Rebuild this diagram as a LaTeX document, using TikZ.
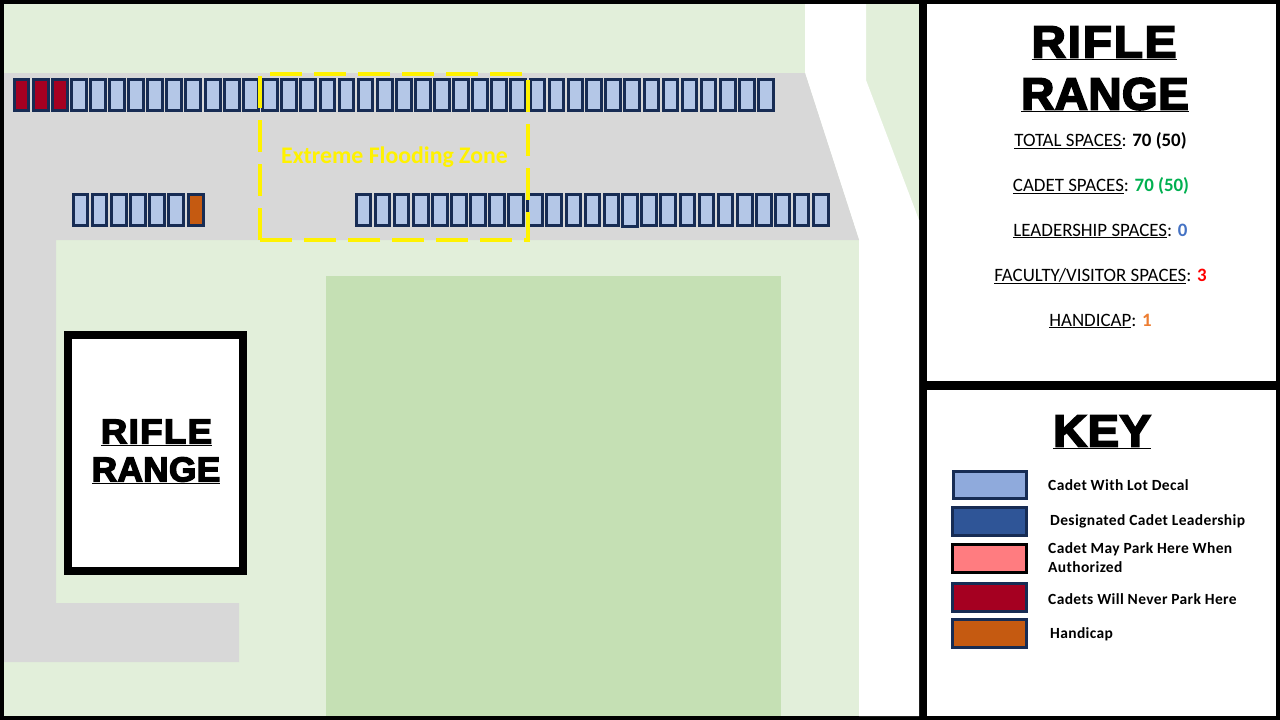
\documentclass[tikz,border=0pt]{standalone}
\usepackage{fontspec}
\setmainfont{Carlito}
\newfontfamily\blackA[FakeBold=4,FakeStretch=1.06,LetterSpace=4]{Liberation Sans Bold}
\newfontfamily\blackB[FakeBold=4,FakeStretch=1.02,LetterSpace=1]{Liberation Sans Bold}
\newfontfamily\blackC[FakeBold=4,FakeStretch=1.05,LetterSpace=1]{Liberation Sans Bold}
\newfontfamily\keyfont[LetterSpace=2.3]{Carlito Bold}
\newcommand{\fsz}[1]{\fontsize{#1}{#1}\selectfont}
\definecolor{lawn}{HTML}{E2EFDA}
\definecolor{field}{HTML}{C5E0B4}
\definecolor{pave}{HTML}{D8D8D8}
\definecolor{edgeblue}{HTML}{172C54}
\definecolor{decal}{HTML}{B4C7E7}
\definecolor{keydecal}{HTML}{8FAADC}
\definecolor{leader}{HTML}{2F5597}
\definecolor{maypark}{HTML}{FF7C80}
\definecolor{never}{HTML}{A50021}
\definecolor{hcap}{HTML}{C55A11}
\definecolor{cadetgreen}{HTML}{00B050}
\definecolor{leadblue}{HTML}{4472C4}
\definecolor{hcaporange}{HTML}{ED7D31}
\tikzset{
  stall/.style={draw=edgeblue,line width=3pt,fill=decal},
  stat/.style={inner sep=0pt,font=\fsz{18.9}},
  keytext/.style={inner sep=0pt,anchor=west,font=\fsz{15.5}\keyfont},
  bigtitle/.style={inner sep=0pt,font=\fsz{45}},
  buildtitle/.style={inner sep=0pt,font=\fsz{34.5}},
}
\begin{document}
\begin{tikzpicture}[x=1pt,y=-1pt]
\useasboundingbox (0,0) rectangle (1280,720);
\fill[black] (0,0) rectangle (1280,720);
% map
\fill[lawn] (4,4) rectangle (919,716);
\fill[white] (805,4) -- (866,4) -- (866,80) -- (919,220) -- (919,716) -- (859,716) -- (859,240) -- (805,73) -- cycle;
\fill[field] (326,276) rectangle (781,716);
\fill[pave] (4,73) -- (805,73) -- (859,240) -- (56,240) -- (56,603) -- (239,603) -- (239,662) -- (4,662) -- cycle;
% top row
\foreach \a/\b in {70/88,89/107,108/126,127/145,146/164,165/183,184/202,204/222,223/241,242/260,261/279,280/298,299/317,319/336,338/355,357/374,376/394,395/413,414/432,433/451,452/470,471/489,490/508,509/527,529/546,548/565,567/584,585/603,604/622,623/641,643/660,662/679,681/698,700/717,719/737,738/756,757/775}
  \draw[stall] (\a+1.5,79.5) rectangle (\b-1.5,110.5);
\foreach \a/\b in {13/30,32/50,51/69}
  \draw[stall,fill=never] (\a+1.5,79.5) rectangle (\b-1.5,110.5);
% bottom row, left group
\foreach \a/\b in {72/89,91/108,110/128,129/147,148/166,167/185}
  \draw[stall] (\a+1.5,194.5) rectangle (\b-1.5,225.5);
\draw[stall,fill=hcap] (188.5,194.5) rectangle (203.5,225.5);
% bottom row, right group
\foreach \a/\b in {355/372,374/391,393/410,412/430,431/449,450/468,469/487,488/506,507/525,526/544,545/563,565/582,584/601,603/620,640/658,659/677,679/696,698/715,717/734,736/754,755/773,774/791,793/810,812/830}
  \draw[stall] (\a+1.5,194.5) rectangle (\b-1.5,225.5);
\draw[stall] (622.5,194.5) rectangle (637.5,226.5);
% flood zone
\draw[yellow,line width=4pt,dash pattern=on 32pt off 12pt] (260,240) -- (260,74) -- (528,74) -- (528,240) -- cycle;
\node[inner sep=0pt,text=yellow,font=\fsz{23.8}\bfseries] (flood) at (394.5,157) {Extreme Flooding Zone};
% building
\draw[black,fill=white,line width=8pt] (68,335) rectangle (243,571);
\node[buildtitle] (b1) at (156.5,432.5) {\blackA\underline{RIFLE}};
\node[buildtitle] (b2) at (156,470.5) {\blackB\underline{RANGE}};
% right panels
\fill[white] (927,4) rectangle (1276,381);
\fill[white] (927,390) rectangle (1276,716);
\node[bigtitle] (t1) at (1104,43) {\blackA\underline{RIFLE}};
\node[bigtitle] (t2) at (1105,95) {\blackB\underline{RANGE}};
\node[stat] (s1) at (1100.5,141) {\underline{TOTAL SPACES}: \textbf{70 (50)}};
\node[stat] (s2) at (1101,186) {\underline{CADET SPACES}: \textcolor{cadetgreen}{\textbf{70 (50)}}};
\node[stat] (s3) at (1100.5,231) {\underline{LEADERSHIP SPACES}: \textcolor{leadblue}{\textbf{0}}};
\node[stat] (s4) at (1100.5,276) {\underline{FACULTY/VISITOR SPACES}: \textcolor{red}{\textbf{3}}};
\node[stat] (s5) at (1100.5,321) {\underline{HANDICAP}: \textcolor{hcaporange}{\textbf{1}}};
\node[bigtitle] (k0) at (1102,432) {\blackC\underline{KEY}};
% key
\draw[stall,fill=keydecal] (953.5,471.5) rectangle (1026.5,498.5);
\draw[stall,fill=leader] (952.5,507.5) rectangle (1026.5,535.5);
\draw[stall,draw=black,fill=maypark] (952.5,544.5) rectangle (1026.5,572.5);
\draw[stall,fill=never] (952.5,583.5) rectangle (1026.5,611.5);
\draw[stall,fill=hcap] (952.5,619.5) rectangle (1026.5,647.5);
\node[keytext] (k1) at (1048,485) {Cadet With Lot Decal};
\node[keytext] (k2) at (1050,521.5) {Designated Cadet Leadership};
\node[keytext] (k3a) at (1048,549) {Cadet May Park Here When};
\node[keytext] (k3b) at (1048,567) {Authorized};
\node[keytext] (k4) at (1048,599) {Cadets Will Never Park Here};
\node[keytext] (k5) at (1050,634.5) {Handicap};
\end{tikzpicture}
\end{document}
